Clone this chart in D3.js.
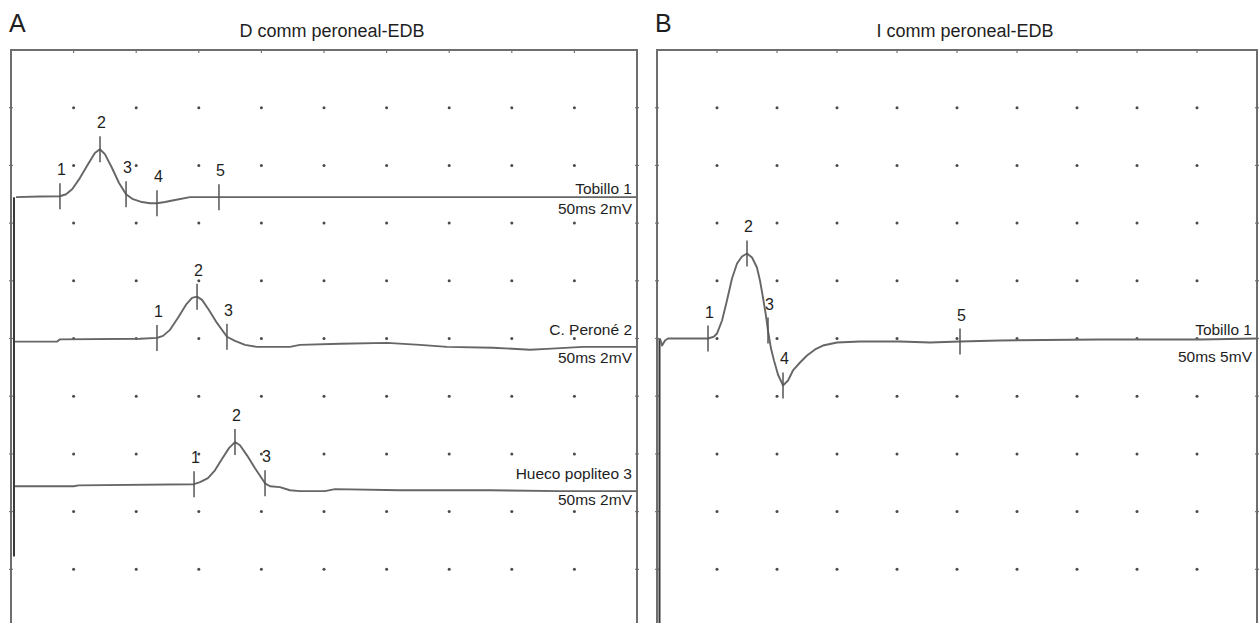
<!DOCTYPE html>
<html lang="en">
<head>
  <meta charset="UTF-8">
  <title>Peroneal motor conduction</title>
  <script src="https://d3js.org/d3.v7.min.js"></script>
  <style>
    body { margin: 0; background: #fff; }
    svg { display: block; font-family: "Liberation Sans", Arial, sans-serif; }
    .frame { fill: none; stroke: #6e6e6e; stroke-width: 2; }
    .trace { fill: none; stroke: #666; stroke-width: 1.9; stroke-linejoin: round; }
    .marker { stroke: #555; stroke-width: 1.5; }
    .dot { fill: #4a4a4a; }
    .edge { stroke: #777; stroke-width: 1.2; }
    text { fill: #1e1e1e; }
  </style>
</head>
<body>
  <svg id="chart" width="1260" height="623"></svg>

  <script>
    // traces: [time ms, amplitude mV] relative to each trace's baseline
    const tobilloA = [
      [0.4, 0], [2.3, 0.02], [3.9, 0.03], [4.4, 0.1], [4.9, 0.28], [5.5, 0.66], [6.15, 1.14],
      [6.7, 1.53], [7.1, 1.66], [7.5, 1.49], [8.07, 1.01], [8.63, 0.49], [9.19, 0.1],
      [9.74, -0.07], [10.46, -0.17], [11.1, -0.21], [11.66, -0.21], [12.3, -0.17],
      [13.1, -0.1], [14.3, 0], [16.6, 0], [50, 0]
    ];
    const peroneA = [
      [0.32, -0.03], [3.67, -0.03], [3.91, 0.05], [10.3, 0.07], [11.66, 0.1], [12.14, 0.17],
      [12.7, 0.38], [13.34, 0.8], [13.98, 1.25], [14.46, 1.49], [14.86, 1.53], [15.26, 1.42],
      [15.81, 1.07], [16.45, 0.62], [17.25, 0.14], [17.89, 0], [18.69, -0.14], [19.65, -0.21],
      [22.28, -0.21], [23.08, -0.14], [26.28, -0.1], [30.03, -0.07], [32.67, -0.14],
      [34.82, -0.21], [38.5, -0.24], [41.45, -0.31], [42.81, -0.28], [45.69, -0.21], [50, -0.21]
    ];
    const huecoA = [
      [0.32, 0], [5.0, 0], [5.4, 0.03], [14.62, 0.07], [15.1, 0.14], [15.73, 0.28], [16.29, 0.55],
      [16.85, 0.94], [17.41, 1.32], [17.89, 1.53], [18.29, 1.42], [18.85, 1.07], [19.49, 0.62],
      [20.29, 0.1], [20.69, 0], [21.48, -0.03], [22.28, -0.14], [23.08, -0.17], [25.08, -0.17],
      [25.88, -0.1], [31.07, -0.14], [38.26, -0.14], [43.85, -0.17], [50, -0.17]
    ];
    const tobilloB = [
      [0.25, 0], [0.42, -0.61], [0.67, -0.17], [0.92, 0], [4.25, 0], [4.75, 0.17], [5.0, 0.43],
      [5.42, 1.56], [5.83, 3.29], [6.25, 5.2], [6.67, 6.5], [7.08, 7.11], [7.5, 7.37],
      [7.92, 7.02], [8.33, 6.15], [8.58, 5.03], [8.83, 3.55], [9.08, 1.99], [9.25, 0.69],
      [9.5, -0.87], [9.75, -1.91], [10.08, -3.12], [10.5, -4.07], [10.92, -3.64], [11.33, -2.77],
      [11.92, -2.08], [12.5, -1.47], [13.17, -0.95], [13.83, -0.61], [15.0, -0.35],
      [16.92, -0.26], [20.25, -0.26], [22.75, -0.35], [25.25, -0.26], [28.58, -0.17],
      [36.92, -0.09], [45.25, -0.09], [50, 0]
    ];

    // cursor latencies (ms), numbered 1..n
    const markTobilloA = [3.91, 7.11, 9.19, 11.66, 16.61];
    const markPeroneA = [11.66, 14.86, 17.25];
    const markHuecoA = [14.62, 17.89, 20.29];
    const markTobilloB = [4.25, 7.5, 9.25, 10.5, 25.25];

    const siteLabels = ["Tobillo 1", "C. Peroné 2", "Hueco popliteo 3"];
    const settingsA = "50ms 2mV";
    const settingsB = "50ms 5mV";
    const titles = ["D comm peroneal-EDB", "I comm peroneal-EDB"];
    const panelLetters = ["A", "B"];

    const sweepMs = 50, divs = 10;
    const svg = d3.select("#chart");

    // vertical division scale shared by both panels (top border at 50, 57.7 px/div)
    const yDiv = d3.scaleLinear().domain([0, divs]).range([50, 627]);

    const panels = [
      {
        letter: panelLetters[0], title: titles[0], x0: 11, x1: 637,
        stimY: [2.55, 8.78], stimX: 14,
        traces: [
          { data: tobilloA, marks: markTobilloA, base: 2.55, gain: 2, label: siteLabels[0], setting: settingsA, ly: -3, sy: 17 },
          { data: peroneA, marks: markPeroneA, base: 5.04, gain: 2, label: siteLabels[1], setting: settingsA, ly: -6, sy: 22 },
          { data: huecoA, marks: markHuecoA, base: 7.56, gain: 2, label: siteLabels[2], setting: settingsA, ly: -7, sy: 19 }
        ]
      },
      {
        letter: panelLetters[1], title: titles[1], x0: 657, x1: 1257,
        stimY: [5.0, 10], stimX: 659.5,
        traces: [
          { data: tobilloB, marks: markTobilloB, base: 5.0, gain: 5, label: siteLabels[0], setting: settingsB, ly: -4, sy: 23 }
        ]
      }
    ];

    panels.forEach(p => {
      const g = svg.append("g");
      const x = d3.scaleLinear().domain([0, sweepMs]).range([p.x0, p.x1]);

      // panel letter and title
      g.append("text").attr("x", p.x0 - 2).attr("y", 32)
        .attr("font-size", 25).text(p.letter);
      g.append("text").attr("x", (p.x0 + p.x1) / 2 + 8).attr("y", 37)
        .attr("text-anchor", "middle").attr("font-size", 18).text(p.title);

      // grid dots
      const cols = d3.range(1, divs), rows = d3.range(1, divs);
      rows.forEach(r => {
        g.selectAll(null).data(cols).enter().append("circle")
          .attr("class", "dot")
          .attr("cx", c => x(c * sweepMs / divs))
          .attr("cy", yDiv(r))
          .attr("r", 1.5);
      });

      // small ticks on the border
      g.selectAll(null).data(cols).enter().append("line")
        .attr("class", "edge")
        .attr("x1", c => x(c * sweepMs / divs)).attr("x2", c => x(c * sweepMs / divs))
        .attr("y1", yDiv(0)).attr("y2", yDiv(0) + 3);
      [p.x0, p.x1].forEach(ex => {
        g.selectAll(null).data(rows).enter().append("line")
          .attr("class", "edge")
          .attr("x1", ex - 2).attr("x2", ex + 2)
          .attr("y1", r => yDiv(r)).attr("y2", r => yDiv(r));
      });

      // frame (bottom is cut off by the picture)
      g.append("path").attr("class", "frame")
        .attr("d", `M${p.x0},623V${yDiv(0)}H${p.x1}V623`);

      // stimulus artifact
      g.append("line")
        .attr("x1", p.stimX).attr("x2", p.stimX)
        .attr("y1", yDiv(p.stimY[0])).attr("y2", Math.min(623, yDiv(p.stimY[1])))
        .attr("stroke", "#3a3a3a").attr("stroke-width", 2);

      p.traces.forEach(t => {
        const y = d3.scaleLinear().domain([0, t.gain])
          .range([yDiv(t.base), yDiv(t.base - 1)]);
        const line = d3.line().x(d => x(d[0])).y(d => y(d[1]));
        g.append("path").datum(t.data).attr("class", "trace").attr("d", line);

        const bis = d3.bisector(d => d[0]).left;
        const valueAt = ms => {
          const i = Math.max(1, Math.min(t.data.length - 1, bis(t.data, ms)));
          const a = t.data[i - 1], b = t.data[i];
          return a[1] + (b[1] - a[1]) * (ms - a[0]) / (b[0] - a[0]);
        };

        t.marks.forEach((ms, i) => {
          const mx = x(ms), my = y(valueAt(ms));
          g.append("line").attr("class", "marker")
            .attr("x1", mx).attr("x2", mx)
            .attr("y1", my - 13).attr("y2", my + 13);
          g.append("text").attr("x", mx + 1.5).attr("y", my - 21)
            .attr("text-anchor", "middle").attr("font-size", 16)
            .text(i + 1);
        });

        const ty = yDiv(t.base);
        g.append("text").attr("x", p.x1 - 5).attr("y", ty + t.ly)
          .attr("text-anchor", "end").attr("font-size", 15.5).text(t.label);
        g.append("text").attr("x", p.x1 - 5).attr("y", ty + t.sy)
          .attr("text-anchor", "end").attr("font-size", 15.5).text(t.setting);
      });
    });
  </script>
</body>
</html>
